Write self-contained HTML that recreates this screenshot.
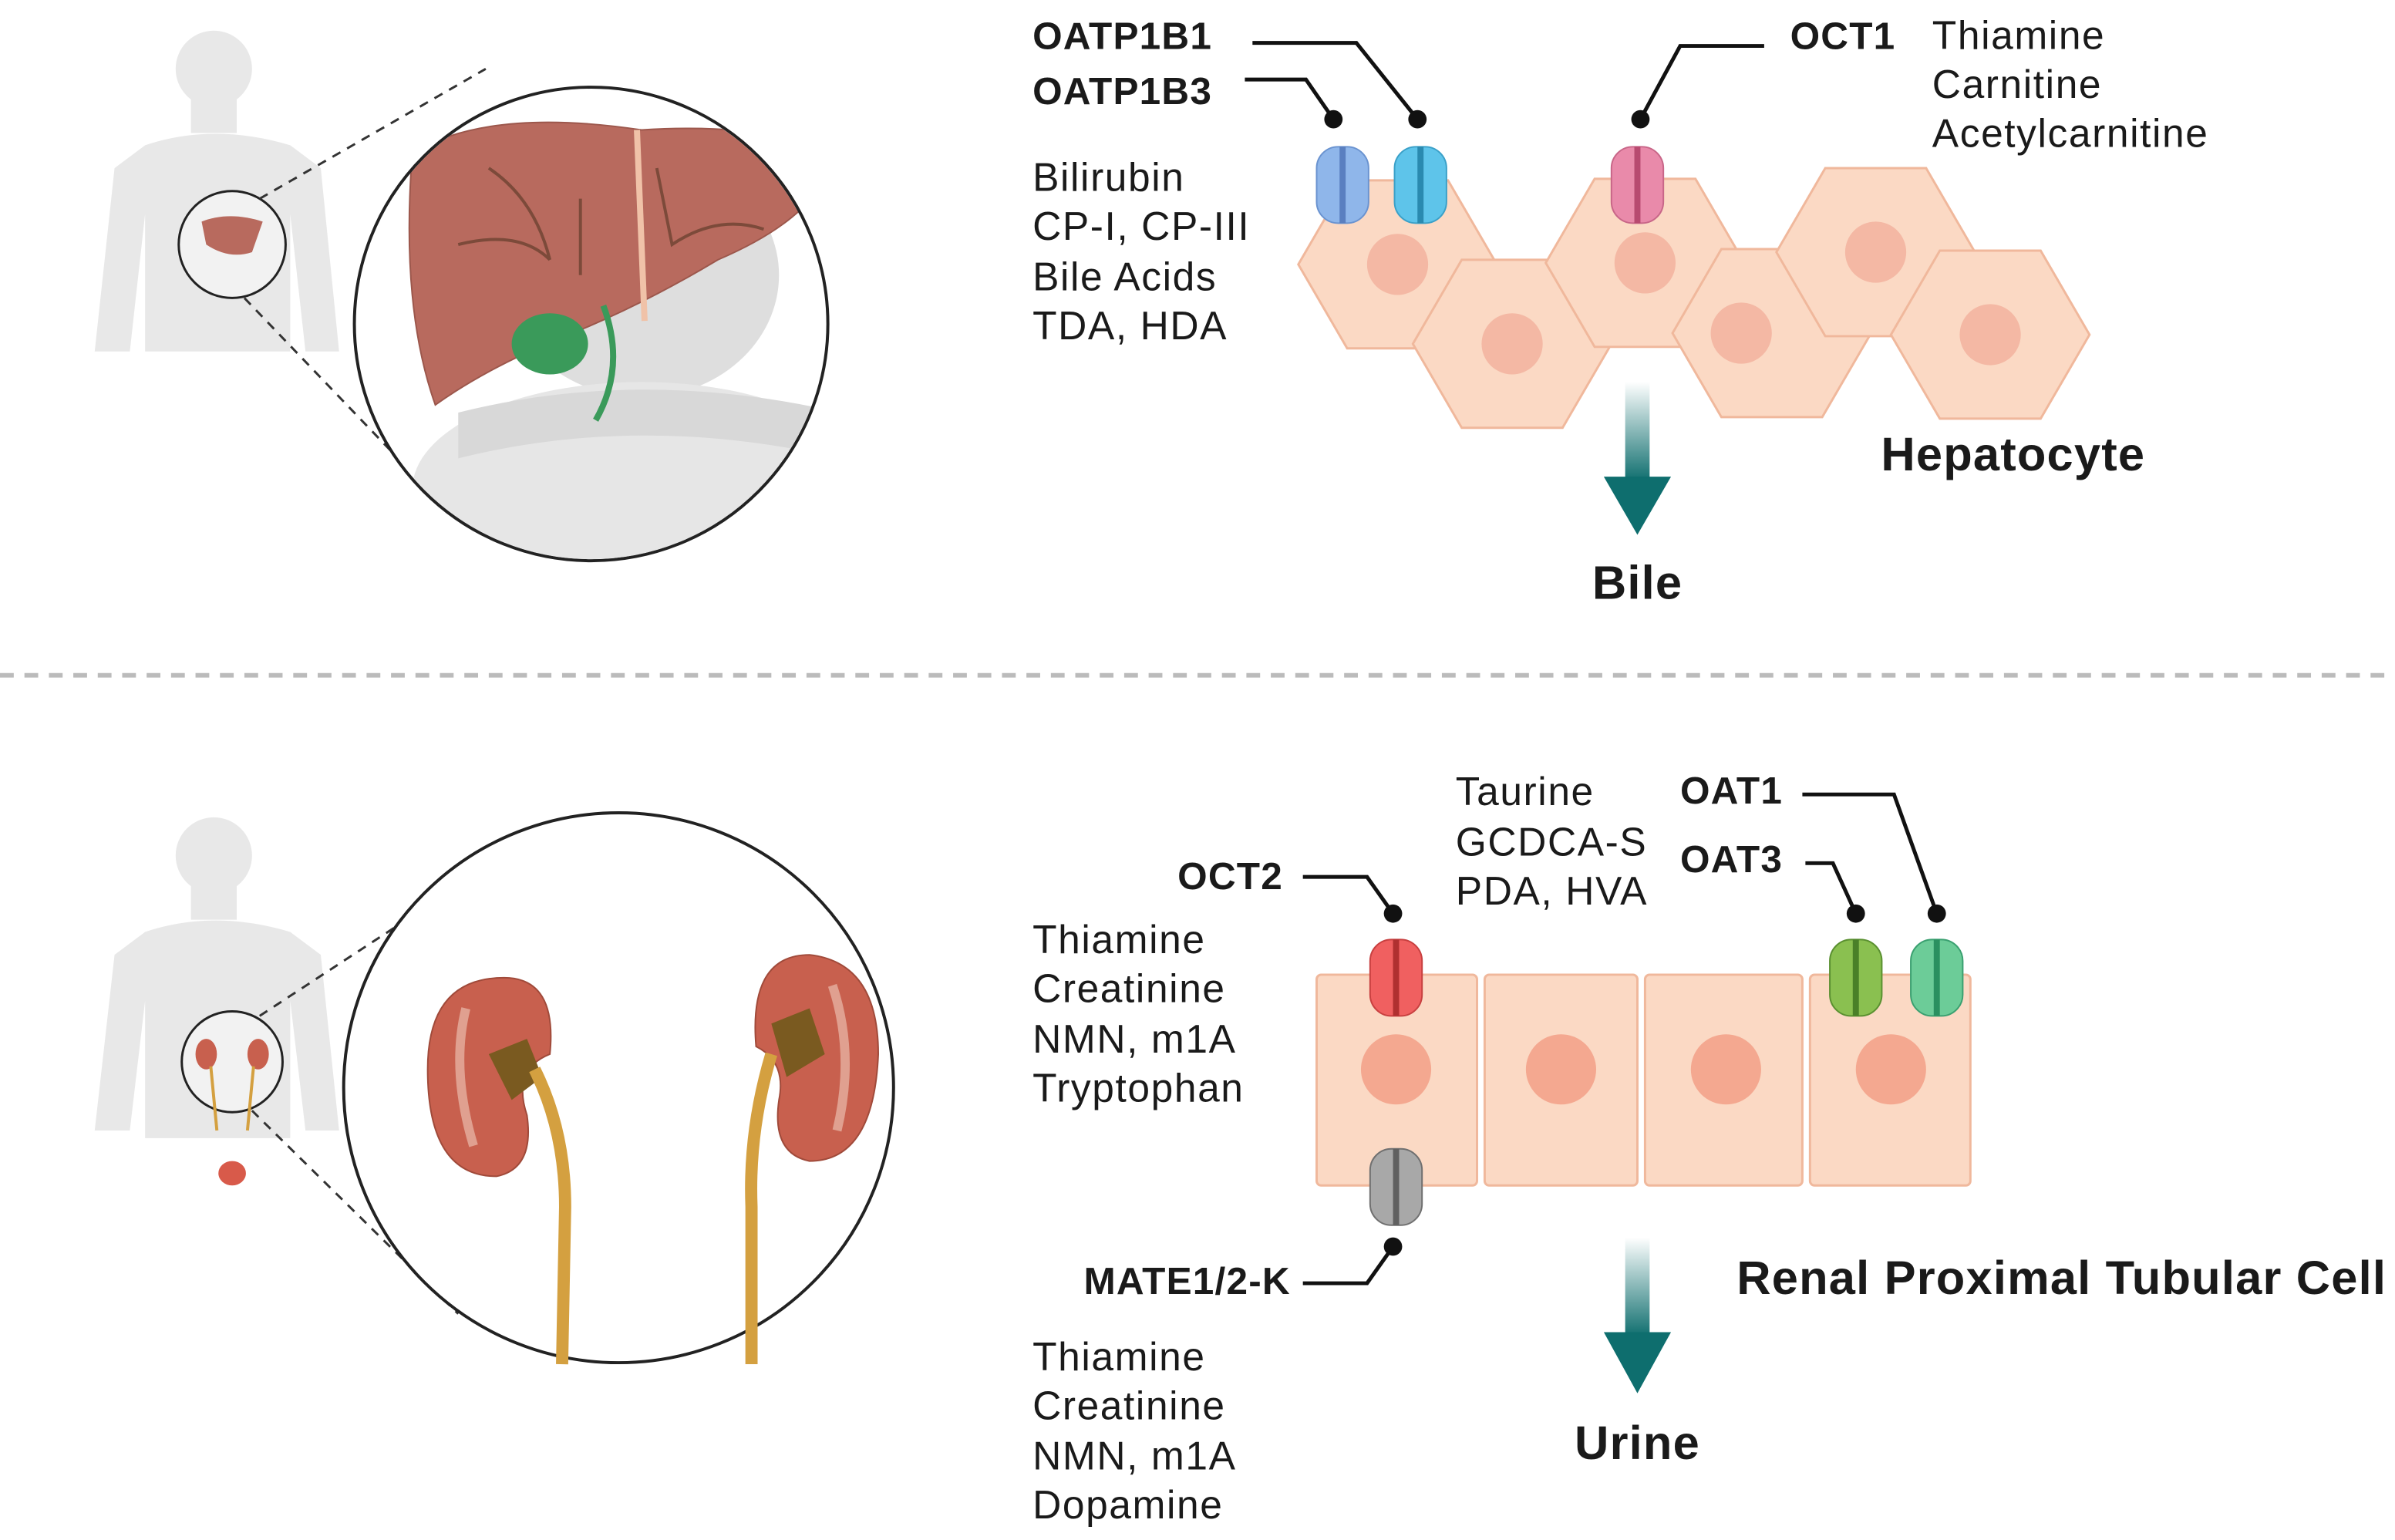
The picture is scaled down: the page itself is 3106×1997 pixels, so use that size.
<!DOCTYPE html>
<html><head><meta charset="utf-8"><style>
html,body{margin:0;padding:0;background:#fff;}
svg{display:block;}
text{font-family:"Liberation Sans",sans-serif;fill:#1a1a1a;}
.r{font-size:26px;letter-spacing:0.8px;}
.b{font-weight:bold;font-size:25px;letter-spacing:0.6px;}
.L{font-weight:bold;font-size:31px;letter-spacing:0.6px;}
</style></head><body>
<svg width="3106" height="1997" viewBox="0 0 1568 1008" xmlns="http://www.w3.org/2000/svg">
<defs>
<linearGradient id="tg" x1="0" y1="0" x2="0" y2="1"><stop offset="0" stop-color="#0e6e6e" stop-opacity="0"/><stop offset="1" stop-color="#0e6e6e"/></linearGradient>
</defs>
<!-- TOP human -->
<g fill="#e8e8e8">
<circle cx="140" cy="45" r="25"/>
<rect x="125" y="62" width="30" height="25"/>
<path d="M95 95 Q140 80 190 95 L210 110 L222 230 L200 230 L190 140 L190 230 L95 230 L95 140 L85 230 L62 230 L75 110 Z"/>
</g>
<circle cx="152" cy="160" r="35" fill="#f2f2f2" stroke="#222" stroke-width="1.5"/>
<path d="M132 145 Q150 138 172 145 L165 165 Q150 170 135 160 Z" fill="#b86a5e"/>
<line x1="170" y1="130" x2="318" y2="45" stroke="#333" stroke-width="1.5" stroke-dasharray="6,5"/>
<line x1="160" y1="195" x2="275" y2="315" stroke="#333" stroke-width="1.5" stroke-dasharray="6,5"/>
<circle cx="387" cy="212" r="155" fill="#fff" stroke="#222" stroke-width="2"/>
<clipPath id="c1"><circle cx="387" cy="212" r="154"/></clipPath>
<g clip-path="url(#c1)">
<ellipse cx="420" cy="180" rx="90" ry="80" fill="#dedede"/>
<ellipse cx="420" cy="320" rx="150" ry="70" fill="#e6e6e6"/>
<path d="M300 270 Q420 240 550 270 L550 300 Q420 270 300 300 Z" fill="#d8d8d8"/>
<path d="M270 100 Q320 70 420 85 Q500 80 545 100 Q540 140 470 170 Q420 200 370 220 Q320 240 285 265 Q262 200 270 100 Z" fill="#b86a5e" stroke="#9c574c" stroke-width="1"/>
<path d="M300 160 Q340 150 360 170 M320 110 Q350 130 360 170 M380 130 L380 180 M430 110 L440 160 Q470 140 500 150" stroke="#7c4a3a" stroke-width="2" fill="none"/>
<path d="M417 85 L422 210" stroke="#f0c2a8" stroke-width="4" fill="none"/>
<ellipse cx="360" cy="225" rx="25" ry="20" fill="#3a9a5a"/>
<path d="M395 200 Q410 240 390 275" stroke="#3a9a5a" stroke-width="4" fill="none"/>
</g>
<!-- labels top -->
<text x="676" y="32" class="b">OATP1B1</text>
<text x="676" y="68" class="b">OATP1B3</text>
<g class="r"><text x="676" y="125">Bilirubin</text><text x="676" y="157">CP-I, CP-III</text><text x="676" y="190">Bile Acids</text><text x="676" y="222">TDA, HDA</text></g>
<text x="1172" y="32" class="b">OCT1</text>
<g class="r"><text x="1265" y="32">Thiamine</text><text x="1265" y="64">Carnitine</text><text x="1265" y="96">Acetylcarnitine</text></g>
<g stroke="#111" stroke-width="2.5" fill="none">
<polyline points="820,28 888,28 928,78"/>
<polyline points="815,52 855,52 873,78"/>
<polyline points="1155,30 1100,30 1074,78"/>
</g>
<g fill="#111"><circle cx="928" cy="78" r="6"/><circle cx="873" cy="78" r="6"/><circle cx="1074" cy="78" r="6"/></g>
<!-- hepatocytes -->
<g fill="#fbd9c4" stroke="#f0b89c" stroke-width="1.5">
<polygon points="850,173 882,118 948,118 980,173 948,228 882,228"/>
<polygon points="925,225 957,170 1023,170 1055,225 1023,280 957,280"/>
<polygon points="1012,172 1044,117 1110,117 1142,172 1110,227 1044,227"/>
<polygon points="1095,218 1127,163 1193,163 1225,218 1193,273 1127,273"/>
<polygon points="1163,165 1195,110 1261,110 1293,165 1261,220 1195,220"/>
<polygon points="1238,219 1270,164 1336,164 1368,219 1336,274 1270,274"/>
</g>
<g fill="#f4b8a4"><circle cx="915" cy="173" r="20"/><circle cx="990" cy="225" r="20"/><circle cx="1077" cy="172" r="20"/><circle cx="1140" cy="218" r="20"/><circle cx="1228" cy="165" r="20"/><circle cx="1303" cy="219" r="20"/></g>
<g>
<rect x="862" y="96" width="34" height="50" rx="14" fill="#8fb6ea" stroke="#6a93d0"/><line x1="879" y1="96" x2="879" y2="146" stroke="#5a7fc0" stroke-width="4"/>
<rect x="913" y="96" width="34" height="50" rx="14" fill="#5ec4ea" stroke="#3aa0c8"/><line x1="930" y1="96" x2="930" y2="146" stroke="#2a8ab0" stroke-width="4"/>
<rect x="1055" y="96" width="34" height="50" rx="14" fill="#e98aaa" stroke="#c86688"/><line x1="1072" y1="96" x2="1072" y2="146" stroke="#b84a70" stroke-width="4"/>
</g>
<rect x="1064" y="250" width="16" height="65" fill="url(#tg)"/>
<polygon points="1050,312 1094,312 1072,350" fill="#0e6e6e"/>
<text x="1072" y="392" class="L" text-anchor="middle">Bile</text>
<text x="1318" y="308" class="L" text-anchor="middle">Hepatocyte</text>
<line x1="0" y1="442" x2="1568" y2="442" stroke="#bbb" stroke-width="3" stroke-dasharray="9,7"/>
<!-- BOTTOM human -->
<g fill="#e8e8e8">
<circle cx="140" cy="560" r="25"/>
<rect x="125" y="577" width="30" height="25"/>
<path d="M95 610 Q140 595 190 610 L210 625 L222 740 L200 740 L190 655 L190 745 L95 745 L95 655 L85 740 L62 740 L75 625 Z"/>
</g>
<circle cx="152" cy="695" r="33" fill="#f2f2f2" stroke="#222" stroke-width="1.5"/>
<ellipse cx="135" cy="690" rx="7" ry="10" fill="#c8604e"/><ellipse cx="169" cy="690" rx="7" ry="10" fill="#c8604e"/>
<path d="M138 698 L142 740 M166 698 L162 740" stroke="#d4a040" stroke-width="2"/>
<ellipse cx="152" cy="768" rx="9" ry="8" fill="#d85a4a"/>
<line x1="170" y1="665" x2="315" y2="570" stroke="#333" stroke-width="1.5" stroke-dasharray="6,5"/>
<line x1="165" y1="727" x2="300" y2="860" stroke="#333" stroke-width="1.5" stroke-dasharray="6,5"/>
<circle cx="405" cy="712" r="180" fill="#fff" stroke="#222" stroke-width="2"/>
<g>
<path d="M330 640 Q280 640 280 700 Q280 770 325 770 Q350 765 345 730 Q335 700 360 690 Q365 640 330 640 Z" fill="#c8604e" stroke="#a04a3a"/>
<path d="M530 625 Q575 630 575 690 Q572 760 530 760 Q505 755 510 720 Q515 695 495 685 Q490 625 530 625 Z" fill="#c8604e" stroke="#a04a3a"/>
<path d="M305 660 Q295 700 310 750 M545 645 Q560 690 548 740" stroke="#e0a090" stroke-width="6" fill="none"/>
<path d="M320 690 L345 680 L355 705 L335 720 Z" fill="#7a5a20"/>
<path d="M505 670 L530 660 L540 690 L515 705 Z" fill="#7a5a20"/>
<path d="M350 700 Q370 740 370 790 L368 893" stroke="#d4a040" stroke-width="8" fill="none"/>
<path d="M505 690 Q490 740 492 790 L492 893" stroke="#d4a040" stroke-width="8" fill="none"/>
</g>
<!-- labels bottom -->
<text x="840" y="582" class="b" text-anchor="end">OCT2</text>
<g class="r"><text x="676" y="624">Thiamine</text><text x="676" y="656">Creatinine</text><text x="676" y="689">NMN, m1A</text><text x="676" y="721">Tryptophan</text></g>
<g class="r"><text x="953" y="527">Taurine</text><text x="953" y="560">GCDCA-S</text><text x="953" y="592">PDA, HVA</text></g>
<text x="1100" y="526" class="b">OAT1</text>
<text x="1100" y="571" class="b">OAT3</text>
<text x="845" y="847" class="b" text-anchor="end">MATE1/2-K</text>
<g class="r"><text x="676" y="897">Thiamine</text><text x="676" y="929">Creatinine</text><text x="676" y="962">NMN, m1A</text><text x="676" y="994">Dopamine</text></g>
<g stroke="#111" stroke-width="2.5" fill="none">
<polyline points="853,574 895,574 912,598"/>
<polyline points="1180,520 1240,520 1268,598"/>
<polyline points="1182,565 1200,565 1215,598"/>
<polyline points="853,840 895,840 912,816"/>
</g>
<g fill="#111"><circle cx="912" cy="598" r="6"/><circle cx="1268" cy="598" r="6"/><circle cx="1215" cy="598" r="6"/><circle cx="912" cy="816" r="6"/></g>
<g fill="#fbd9c4" stroke="#f0b89c" stroke-width="1.5">
<rect x="862" y="638" width="105" height="138" rx="3"/>
<rect x="972" y="638" width="100" height="138" rx="3"/>
<rect x="1077" y="638" width="103" height="138" rx="3"/>
<rect x="1185" y="638" width="105" height="138" rx="3"/>
</g>
<g fill="#f4a890"><circle cx="914" cy="700" r="23"/><circle cx="1022" cy="700" r="23"/><circle cx="1130" cy="700" r="23"/><circle cx="1238" cy="700" r="23"/></g>
<g>
<rect x="897" y="615" width="34" height="50" rx="14" fill="#f06060" stroke="#c84040"/><line x1="914" y1="615" x2="914" y2="665" stroke="#b03030" stroke-width="4"/>
<rect x="1198" y="615" width="34" height="50" rx="14" fill="#8ac050" stroke="#5a9030"/><line x1="1215" y1="615" x2="1215" y2="665" stroke="#4a8028" stroke-width="4"/>
<rect x="1251" y="615" width="34" height="50" rx="14" fill="#6ccc98" stroke="#3aa070"/><line x1="1268" y1="615" x2="1268" y2="665" stroke="#2a9060" stroke-width="4"/>
<rect x="897" y="752" width="34" height="50" rx="14" fill="#a8a8a8" stroke="#707070"/><line x1="914" y1="752" x2="914" y2="802" stroke="#606060" stroke-width="4"/>
</g>
<rect x="1064" y="810" width="16" height="65" fill="url(#tg)"/>
<polygon points="1050,872 1094,872 1072,912" fill="#0e6e6e"/>
<text x="1072" y="955" class="L" text-anchor="middle">Urine</text>
<text x="1137" y="847" class="L">Renal Proximal Tubular Cell</text>
</svg>
</body></html>
